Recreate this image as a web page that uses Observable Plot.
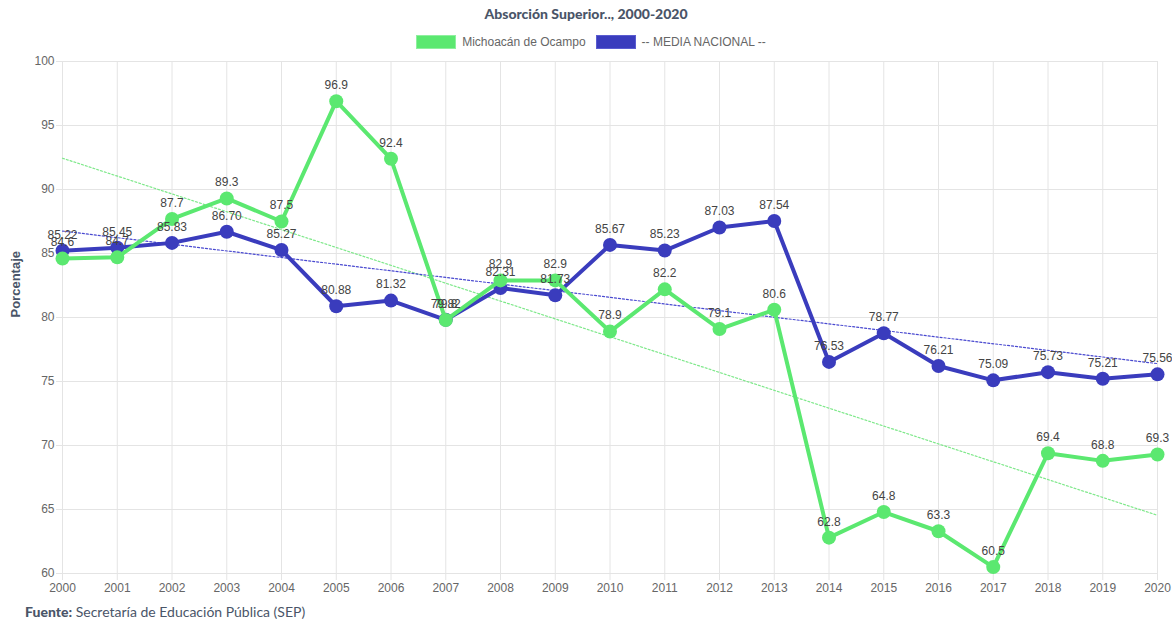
<!DOCTYPE html>
<html><head><meta charset="utf-8">
<script src="https://cdn.jsdelivr.net/npm/d3@7"></script>
<script src="https://cdn.jsdelivr.net/npm/@observablehq/plot@0.6"></script>
<style>
body{margin:0;background:#fff;font-family:Lato,"Open Sans",sans-serif;width:1172px;}
#title{height:30px;line-height:28px;text-align:center;font-weight:900;font-size:14px;color:#4a5568;padding-top:0px;margin-bottom:2px;}
#legend{height:20px;display:flex;justify-content:center;align-items:center;font-size:12px;color:#666;font-family:Arial,"Liberation Sans",sans-serif;}
#legend .sw{width:38px;height:12px;margin:0 6px 0 10px;}
#caption{font-size:14px;color:#4a5568;padding-left:25px;margin-top:5px;}
</style></head>
<body>
<div id="title">Absorción Superior.., 2000-2020</div>
<div id="legend"></div>
<div id="chart"></div>
<div id="caption"><b style="font-weight:900">Fuente:</b> Secretaría de Educación Pública (SEP)</div>
<script>
const years = [2000,2001,2002,2003,2004,2005,2006,2007,2008,2009,2010,2011,2012,2013,2014,2015,2016,2017,2018,2019,2020];
const michoacan = [84.6,84.7,87.7,89.3,87.5,96.9,92.4,79.8,82.9,82.9,78.9,82.2,79.1,80.6,62.8,64.8,63.3,60.5,69.4,68.8,69.3];
const media = [85.22,85.45,85.83,86.70,85.27,80.88,81.32,79.82,82.31,81.73,85.67,85.23,87.03,87.54,76.53,78.77,76.21,75.09,75.73,75.21,75.56];
const mediaLabels = ["85.22","85.45","85.83","86.70","85.27","80.88","81.32","79.82","82.31","81.73","85.67","85.23","87.03","87.54","76.53","78.77","76.21","75.09","75.73","75.21","75.56"];
const seriesNames = ["Michoacán de Ocampo","-- MEDIA NACIONAL --"];
const colors = ["#5be870","#3a3cbd"];
const trendColors = ["#7ee88a","#4a4ad0"];

const mich = years.map((y,i)=>({year:y, value:michoacan[i], label:String(michoacan[i])}));
const med = years.map((y,i)=>({year:y, value:media[i], label:mediaLabels[i]}));

const leg = document.getElementById("legend");
seriesNames.forEach((n,i)=>{
  const s=document.createElement("span");s.className="sw";
  s.style.background=colors[i];s.style.border="1px solid "+(i==0?"#8ef09e":"#5a5cd0");
  leg.appendChild(s);
  const t=document.createElement("span");t.textContent=n;leg.appendChild(t);
});

const chart = Plot.plot({
  width:1172, height:546,
  marginLeft:62, marginRight:15, marginTop:9, marginBottom:25,
  style:{fontFamily:"Arial, 'Liberation Sans', sans-serif", fontSize:"12px", background:"#fff"},
  x:{domain:[2000,2020]},
  y:{domain:[60,100]},
  marks:[
    Plot.gridX({ticks:years, stroke:"#e4e4e4", strokeOpacity:1}),
    Plot.gridY({ticks:d3.range(60,101,5), stroke:"#e4e4e4", strokeOpacity:1}),
    Plot.axisX({ticks:years, tickFormat:"d", tickSize:7, stroke:"#e4e4e4", fill:"#666", tickPadding:3, label:null, fontSize:12}),
    Plot.axisY({ticks:d3.range(60,101,5), tickSize:6, stroke:"#e4e4e4", fill:"#666", tickPadding:2, label:null, fontSize:12}),
    Plot.text(["Porcentaje"],{frameAnchor:"left", dx:-47, rotate:-90, fontWeight:"bold", fontSize:13, fill:"#4a5568"}),
    Plot.linearRegressionY(mich,{x:"year", y:"value", ci:0, stroke:trendColors[0], strokeWidth:1.2, strokeDasharray:"2,2"}),
    Plot.linearRegressionY(med,{x:"year", y:"value", ci:0, stroke:trendColors[1], strokeWidth:1.2, strokeDasharray:"2,2"}),
    Plot.line(med,{x:"year", y:"value", stroke:colors[1], strokeWidth:4}),
    Plot.dot(med,{x:"year", y:"value", fill:colors[1], r:7}),
    Plot.line(mich,{x:"year", y:"value", stroke:colors[0], strokeWidth:4}),
    Plot.dot(mich,{x:"year", y:"value", fill:colors[0], r:7}),
    Plot.text(mich,{x:"year", y:"value", text:"label", dy:-16, fill:"#444", fontSize:12}),
    Plot.text(med,{x:"year", y:"value", text:"label", dy:-16, fill:"#444", fontSize:12})
  ]
});
document.getElementById("chart").appendChild(chart);
</script>
</body></html>
